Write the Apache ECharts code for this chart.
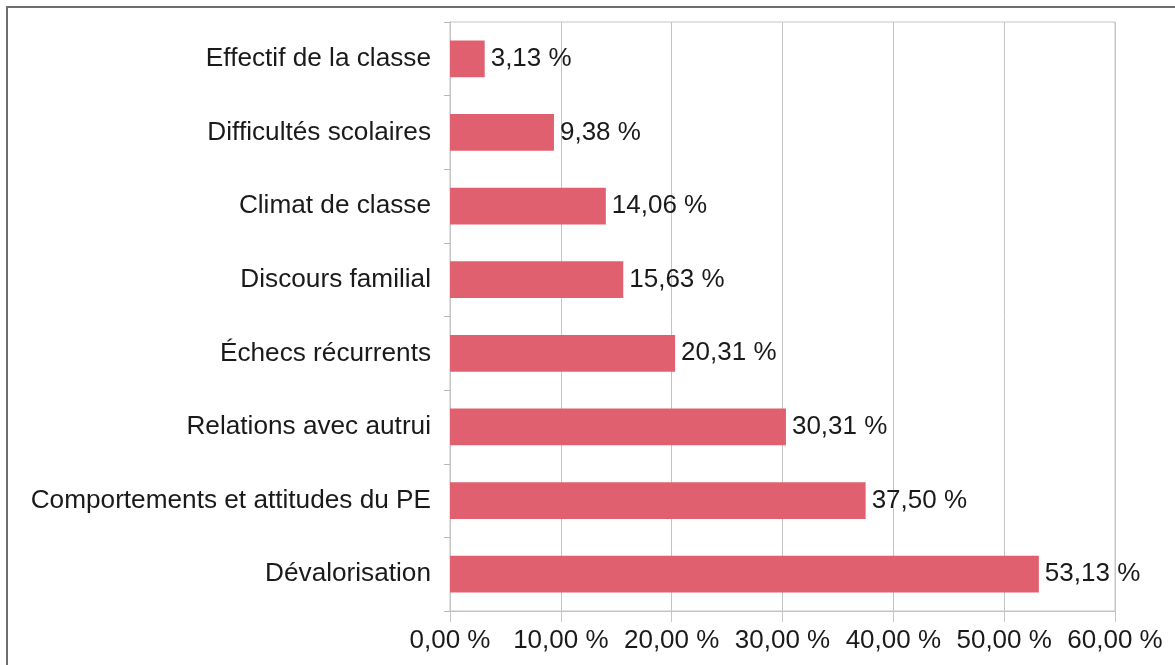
<!DOCTYPE html>
<html>
<head>
<meta charset="utf-8">
<script src="https://cdn.jsdelivr.net/npm/echarts@6/dist/echarts.min.js"></script>
<style>
  html, body { margin: 0; padding: 0; background: #fff; }
  #chart { width: 1175px; height: 665px; }
</style>
</head>
<body>
<div id="chart"></div>
<script>
// categories from bottom to top
const categories = [
  "Dévalorisation",
  "Comportements et attitudes du PE",
  "Relations avec autrui",
  "Échecs récurrents",
  "Discours familial",
  "Climat de classe",
  "Difficultés scolaires",
  "Effectif de la classe"
];
const values = [53.13, 37.50, 30.31, 20.31, 15.63, 14.06, 9.38, 3.13];
const axisMin = 0;
const axisMax = 60;
const axisStep = 10;

const fmt = (v) => v.toFixed(2).replace(".", ",") + " %";

const chart = echarts.init(document.getElementById("chart"));
chart.setOption({
  animation: false,
  textStyle: { fontFamily: "Liberation Sans, Arial, sans-serif" },
  graphic: [
    {
      type: "rect",
      shape: { x: 7, y: 7, width: 1300, height: 800 },
      style: { fill: "none", stroke: "#6e6e6e", lineWidth: 2 },
      silent: true
    }
  ],
  grid: {
    left: 450,
    right: 60,
    top: 22,
    bottom: 54,
    show: true,
    borderColor: "#c4c4c4",
    borderWidth: 1
  },
  xAxis: {
    type: "value",
    min: axisMin,
    max: axisMax,
    interval: axisStep,
    axisLine: { show: true, lineStyle: { color: "#c4c4c4" } },
    axisTick: { show: true, length: 11, lineStyle: { color: "#c4c4c4" } },
    splitLine: { show: true, lineStyle: { color: "#c4c4c4", width: 1 } },
    axisLabel: {
      formatter: (v) => fmt(v),
      fontSize: 26,
      color: "#1a1a1a",
      margin: 17
    }
  },
  yAxis: {
    type: "category",
    data: categories,
    axisLine: { show: true, lineStyle: { color: "#c4c4c4" } },
    axisTick: { show: true, length: 6, lineStyle: { color: "#b8b8b8" } },
    axisLabel: {
      fontSize: 26.2,
      color: "#1a1a1a",
      margin: 19
    }
  },
  series: [
    {
      type: "bar",
      data: values,
      barWidth: "50%",
      itemStyle: { color: "#e0606f" },
      label: {
        show: true,
        position: "right",
        distance: 6,
        formatter: (p) => fmt(p.value),
        fontSize: 26,
        color: "#1a1a1a"
      }
    }
  ]
});
</script>
</body>
</html>
